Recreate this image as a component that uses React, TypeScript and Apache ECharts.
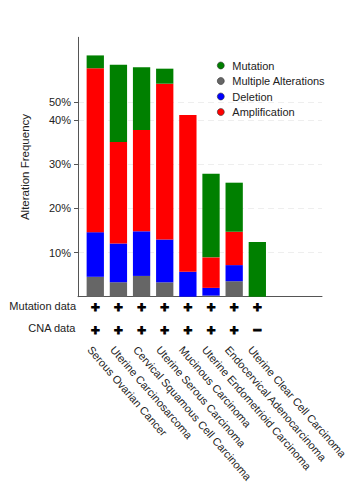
import React, { useEffect, useRef } from "react";
import * as echarts from "echarts";

const categories = [
  "Serous Ovarian Cancer",
  "Uterine Carcinosarcoma",
  "Cervical Squamous Cell Carcinoma",
  "Uterine Serous Carcinoma",
  "Mucinous Carcinoma",
  "Uterine Endometrioid Carcinoma",
  "Endocervical Adenocarcinoma",
  "Uterine Clear Cell Carcinoma",
];
const multipleAlterations = [4.5, 3.25, 4.7, 3.25, 0, 0.25, 3.5, 0];
const deletion = [10.1, 8.8, 10.1, 9.7, 5.65, 1.75, 3.65, 0];
const amplification = [37.1, 22.95, 22.9, 35.25, 35.45, 6.9, 7.55, 0];
const mutation = [2.9, 17.5, 14.2, 3.4, 0, 18.9, 11.1, 12.35];
const mutationData = ["+", "+", "+", "+", "+", "+", "+", "+"];
const cnaData = ["+", "+", "+", "+", "+", "+", "+", "\u2212"];
const yTickValues = [10, 20, 30, 40, 44];
const yTickLabels = ["10%", "20%", "30%", "40%", "50%"];
const yMax = 58.7;

const FONT = "'Liberation Sans', Arial, Helvetica, sans-serif";
const TEXT = "#222";
const AXIS = "#555";

export default function App() {
  const ref = useRef<HTMLDivElement>(null);
  useEffect(() => {
    if (!ref.current) return;
    const chart = echarts.init(ref.current, undefined, { renderer: "svg" });
    const top = 37.3;
    const height = 259.4;
    const flagLabel = (arr: string[]) => ({
      interval: 0,
      fontSize: 15,
      fontWeight: "bold" as const,
      color: "#000",
      textBorderColor: "#000",
      textBorderWidth: 1,
      fontFamily: FONT,
      lineHeight: 16,
      margin: 2,
      formatter: (_v: string, i: number) => arr[i],
    });
    chart.setOption({
      animation: false,
      textStyle: { fontFamily: FONT },
      grid: [
        { left: 83.7, top, width: 185.2, height },
        { left: 78, top, width: 244, height },
        { left: 78.2, top, width: 185.2, height },
      ],
      legend: {
        orient: "vertical",
        left: 212,
        top: 55,
        itemWidth: 7,
        itemHeight: 7,
        itemGap: 4.5,
        icon: "circle",
        data: ["Mutation", "Multiple Alterations", "Deletion", "Amplification"],
        textStyle: { fontSize: 11, color: TEXT, fontFamily: FONT, padding: [0, 0, 0, 3] },
        itemStyle: { borderColor: "#333", borderWidth: 0.6 },
      },
      xAxis: [
        {
          type: "category",
          gridIndex: 0,
          data: categories,
          position: "bottom",
          axisLine: { show: false },
          axisTick: { show: false },
          axisLabel: flagLabel(mutationData),
        },
        {
          type: "category",
          gridIndex: 0,
          data: categories,
          position: "bottom",
          offset: 22.6,
          axisLine: { show: false },
          axisTick: { show: false },
          axisLabel: flagLabel(cnaData),
        },
        {
          type: "value",
          gridIndex: 1,
          min: 0,
          max: 1,
          axisLine: { show: true, lineStyle: { color: AXIS, width: 1 } },
          axisTick: { show: false },
          axisLabel: { show: false },
          splitLine: { show: false },
        },
        {
          type: "category",
          gridIndex: 2,
          data: categories,
          position: "bottom",
          axisLine: { show: false },
          axisTick: { show: false },
          axisLabel: {
            interval: 0,
            rotate: -49,
            margin: 51,
            fontSize: 11,
            color: TEXT,
            fontFamily: FONT,
            hideOverlap: false,
          },
        },
      ],
      yAxis: [
        { type: "value", gridIndex: 0, min: 0, max: yMax, show: false },
        {
          type: "value",
          gridIndex: 1,
          min: 0,
          max: yMax,
          name: "Alteration Frequency",
          nameLocation: "middle",
          nameGap: 47,
          nameTextStyle: { fontSize: 11.5, color: TEXT, fontFamily: FONT },
          axisLine: { show: true, lineStyle: { color: AXIS, width: 1 } },
          axisTick: { show: true, length: 4, customValues: yTickValues, lineStyle: { color: AXIS } },
          axisLabel: {
            customValues: yTickValues,
            fontSize: 11,
            color: TEXT,
            fontFamily: FONT,
            margin: 7,
            formatter: (v: number) => yTickLabels[yTickValues.indexOf(v)] ?? "",
          },
          splitLine: { show: true, lineStyle: { color: "#eeeeee", type: [6, 4], width: 1 } },
        },
        { type: "value", gridIndex: 2, min: 0, max: yMax, show: false },
      ],
      graphic: [
        {
          type: "text",
          right: 350 - 76,
          top: 300,
          style: { text: "Mutation data", fontSize: 11, fill: TEXT, fontFamily: FONT },
        },
        {
          type: "text",
          right: 350 - 76,
          top: 322.6,
          style: { text: "CNA data", fontSize: 11, fill: TEXT, fontFamily: FONT },
        },
      ],
      series: [
        { name: "Multiple Alterations", data: multipleAlterations, color: "#666666" },
        { name: "Deletion", data: deletion, color: "#0000ff" },
        { name: "Amplification", data: amplification, color: "#ff0000" },
        { name: "Mutation", data: mutation, color: "#008000" },
      ].map((s) => ({
        type: "bar",
        name: s.name,
        data: s.data,
        stack: "total",
        xAxisIndex: 0,
        yAxisIndex: 0,
        barWidth: 17.3,
        itemStyle: { color: s.color },
      })),
    });
    return () => chart.dispose();
  }, []);
  return (
    <div
      ref={ref}
      style={{ position: "absolute", left: 0, top: 0, width: 350, height: 503, background: "#fff" }}
    />
  );
}
